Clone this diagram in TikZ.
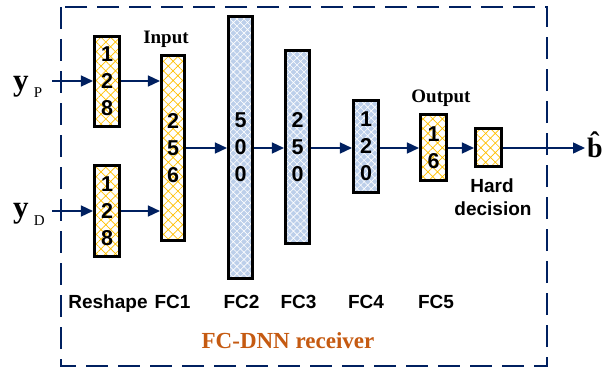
\documentclass[tikz,border=0pt]{standalone}
\usepackage{fontspec}
\setmainfont{Liberation Serif}
\setsansfont{Liberation Sans}
\usetikzlibrary{arrows.meta,patterns.meta}
\definecolor{navy}{HTML}{002060}
\definecolor{yhatch}{HTML}{FFC000}
\definecolor{bfill}{HTML}{BCCFEA}
\definecolor{rcv}{HTML}{C55A11}
\tikzset{
  layer/.style={draw=black, line width=2.6pt, inner sep=0pt, align=center,
    font=\sffamily\bfseries\fontsize{21.5}{27}\selectfont},
  ybox/.style={layer, preaction={fill=white},
    preaction={pattern={Hatch[angle=45,distance=6.8pt,line width=0.7pt]}, pattern color=yhatch}},
  bbox/.style={layer, preaction={fill=bfill},
    preaction={pattern={Hatch[angle=45,distance=5pt,line width=0.6pt]}, pattern color=white}},
  conn/.style={navy, line width=1.5pt, -{Triangle[length=12pt,width=11pt]}},
  lbl/.style={font=\sffamily\bfseries\fontsize{19}{22}\selectfont, anchor=base, inner sep=0pt},
  tlbl/.style={font=\bfseries\fontsize{19}{22}\selectfont, anchor=base, inner sep=0pt},
}
\begin{document}
\begin{tikzpicture}[x=1pt,y=-1pt]
\useasboundingbox (0,0) rectangle (604,369);
% frame
\draw[navy, line width=2.5pt, dash pattern=on 22pt off 10pt] (61,7) rectangle (547,366);
% layers
\node[ybox, minimum width=25.5pt, minimum height=90.5pt] (R1) at (107,81.5) {1\\2\\8};
\node[ybox, minimum width=25.5pt, minimum height=91.5pt] (R2) at (107,211) {1\\2\\8};
\node[ybox, minimum width=23.5pt, minimum height=185.5pt] (FC1) at (173,148) {2\\5\\6};
\node[bbox, minimum width=24.5pt, minimum height=262.5pt] (FC2) at (240.5,147.5) {5\\0\\0};
\node[bbox, minimum width=24.5pt, minimum height=193.5pt] (FC3) at (297.5,147) {2\\5\\0};
\node[bbox, minimum width=25.5pt, minimum height=92.5pt] (FC4) at (366,146.5) {1\\2\\0};
\node[ybox, minimum width=26.5pt, minimum height=66.5pt] (FC5) at (433.5,147.5) {1\\6};
\node[ybox, minimum width=26.5pt, minimum height=38.5pt] (HD) at (488.5,147.5) {};
% coordinates
\coordinate (m) at (0,148);
\coordinate (inP) at (52,81);
\coordinate (inD) at (52,211);
\coordinate (out) at (585,148);
% connectors
\draw[conn] (inP) -- (R1.west |- inP);
\draw[conn] (inD) -- (R2.west |- inD);
\draw[conn] (R1.east |- inP) -- (FC1.west |- inP);
\draw[conn] (R2.east |- inD) -- (FC1.west |- inD);
\draw[conn] (FC1.east |- m) -- (FC2.west |- m);
\draw[conn] (FC2.east |- m) -- (FC3.west |- m);
\draw[conn] (FC3.east |- m) -- (FC4.west |- m);
\draw[conn] (FC4.east |- m) -- (FC5.west |- m);
\draw[conn] (FC5.east |- m) -- (HD.west |- m);
\draw[conn] (HD.east |- m) -- (out);
% inputs / output labels
\node[anchor=base west, inner sep=0pt] (yP) at (13,90)
  {\fontsize{31}{31}\selectfont\bfseries y\,\raisebox{-7pt}{\fontsize{15}{15}\mdseries\selectfont P}};
\node[anchor=base west, inner sep=0pt] (yD) at (13,217)
  {\fontsize{31}{31}\selectfont\bfseries y\,\raisebox{-8pt}{\fontsize{15}{15}\mdseries\selectfont D}};
\node[anchor=base west, inner sep=0pt] (bh) at (587,157)
  {\fontsize{28}{28}\selectfont\bfseries \^{b}};
% top labels
\node[tlbl] (tin) at (166,44) {Input};
\node[tlbl] (tout) at (441,102) {Output};
% hard decision
\node[lbl] (hd1) at (492,192) {Hard};
\node[lbl] (hd2) at (493,215) {decision};
% bottom labels
\node[lbl] (l1) at (108,308) {Reshape};
\node[lbl] (l2) at (172.5,308) {FC1};
\node[lbl] (l3) at (241.5,308) {FC2};
\node[lbl] (l4) at (298.5,308) {FC3};
\node[lbl] (l5) at (366,308) {FC4};
\node[lbl] (l6) at (436,308) {FC5};
\node[anchor=base, inner sep=0pt, text=rcv, font=\bfseries\fontsize{23}{26}\selectfont] (rc) at (288,348) {FC-DNN receiver};
\end{tikzpicture}
\end{document}
